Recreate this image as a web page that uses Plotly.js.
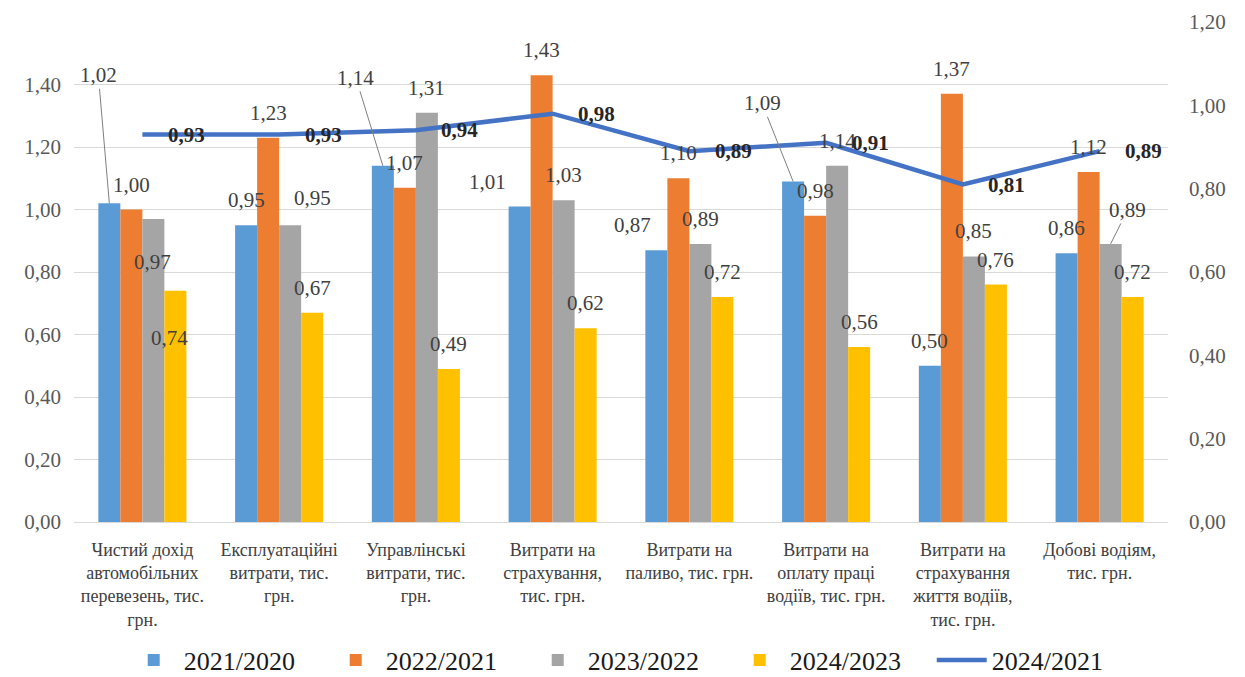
<!DOCTYPE html>
<html>
<head>
<meta charset="utf-8">
<script src="https://cdn.plot.ly/plotly-3.0.1.min.js"></script>
<style>html,body{margin:0;padding:0;background:#fff;}#chart{width:1245px;height:677px;}</style>
</head>
<body>
<div id="chart"></div>
<script>
// ---------- DATA ----------
const categories = [
  "Чистий дохід<br>автомобільних<br>перевезень, тис.<br>грн.",
  "Експлуатаційні<br>витрати, тис.<br>грн.",
  "Управлінські<br>витрати, тис.<br>грн.",
  "Витрати на<br>страхування,<br>тис. грн.",
  "Витрати на<br>паливо, тис. грн.",
  "Витрати на<br>оплату праці<br>водіїв, тис. грн.",
  "Витрати на<br>страхування<br>життя водіїв,<br>тис. грн.",
  "Добові водіям,<br>тис. грн."
];
const s2021_2020 = [1.02, 0.95, 1.14, 1.01, 0.87, 1.09, 0.50, 0.86];
const s2022_2021 = [1.00, 1.23, 1.07, 1.43, 1.10, 0.98, 1.37, 1.12];
const s2023_2022 = [0.97, 0.95, 1.31, 1.03, 0.89, 1.14, 0.85, 0.89];
const s2024_2023 = [0.74, 0.67, 0.49, 0.62, 0.72, 0.56, 0.76, 0.72];
const s2024_2021 = [0.93, 0.93, 0.94, 0.98, 0.89, 0.91, 0.81, 0.89];
const seriesNames = ["2021/2020", "2022/2021", "2023/2022", "2024/2023", "2024/2021"];
const leftTicks = [0, 0.2, 0.4, 0.6, 0.8, 1.0, 1.2, 1.4, 1.6];
const leftTickText = ["0,00","0,20","0,40","0,60","0,80","1,00","1,20","1,40",""];
const rightTicks = [0, 0.2, 0.4, 0.6, 0.8, 1.0, 1.2];

// ---------- STYLE ----------
const barColors = ["#5B9BD5", "#ED7D31", "#A5A5A5", "#FFC000"];
const lineColor = "#4472C4";
const serif = "'Liberation Serif', 'Times New Roman', serif";
const bargap = 0.356;
// manual label placement (pixel offsets from bar top, like moved Excel labels)
const labelMoves = {
  "0-0": [-11, -128, true], "0-2": [-1, 43], "0-3": [-6, 47],
  "1-2": [22, -27],
  "2-0": [-27, -88, true],
  "3-0": [-32, -24],
  "4-0": [-24, -25],
  "5-0": [-31, -78, true],
  "7-2": [17, -34, true]
};

const barSeries = [s2021_2020, s2022_2021, s2023_2022, s2024_2023];
const fmt = v => v.toFixed(2).replace(".", ",");

const traces = barSeries.map((vals, j) => ({
  type: "bar", name: seriesNames[j], x: categories, y: vals,
  marker: {color: barColors[j]}, yaxis: "y", hoverinfo: "y"
}));
traces.push({
  type: "scatter", mode: "lines", name: seriesNames[4], x: categories, y: s2024_2021,
  yaxis: "y2", line: {color: lineColor, width: 4.5}
});

const annotations = [];
const w = (1 - bargap) / 4;
barSeries.forEach((vals, j) => {
  vals.forEach((v, i) => {
    const mv = labelMoves[i + "-" + j] || [0, -25];
    const base = {
      x: i + (j - 1.5) * w, y: v, xref: "x", yref: "y",
      text: fmt(v), font: {family: serif, size: 21, color: "#404040"}
    };
    if (mv[2]) {
      Object.assign(base, {showarrow: true, ax: mv[0], ay: mv[1], arrowhead: 0,
        arrowwidth: 1, arrowcolor: "#7F7F7F", standoff: 0, startstandoff: 0});
    } else {
      Object.assign(base, {showarrow: false, xshift: mv[0], yshift: -mv[1]});
    }
    annotations.push(base);
  });
});
s2024_2021.forEach((v, i) => {
  annotations.push({
    x: i, y: v, xref: "x", yref: "y2", text: "<b>" + fmt(v) + "</b>",
    showarrow: false, xshift: 44, yshift: 0,
    font: {family: serif, size: 21, color: "#262626"}
  });
});

const layout = {
  width: 1245, height: 677,
  margin: {l: 74, r: 77, t: 22, b: 155, autoexpand: false},
  paper_bgcolor: "#ffffff", plot_bgcolor: "#ffffff",
  separators: ", ",
  font: {family: serif},
  barmode: "group", bargap: bargap, bargroupgap: 0,
  showlegend: true,
  legend: {orientation: "h", x: 0.505, xanchor: "center", xref: "container",
    y: 0.025, yanchor: "middle", yref: "container",
    font: {family: serif, size: 26, color: "#1a1a1a"}, itemwidth: 50,
    entrywidth: 137, entrywidthmode: "pixels",
    traceorder: "normal"},
  xaxis: {
    type: "category", showgrid: false, showline: true, linecolor: "#D9D9D9", linewidth: 1,
    ticks: "", ticklabelstandoff: 11,
    tickfont: {family: serif, size: 18, color: "#404040"}, automargin: false,
    fixedrange: true
  },
  yaxis: {
    range: [0, 1.6], tickvals: leftTicks, ticktext: leftTickText,
    showgrid: true, gridcolor: "#D9D9D9", gridwidth: 1, zeroline: false,
    showline: false, ticks: "", ticklabelstandoff: 12,
    tickfont: {family: serif, size: 21, color: "#595959"}, automargin: false
  },
  yaxis2: {
    range: [0, 1.2], overlaying: "y", side: "right", tickvals: rightTicks,
    tickformat: ".2f", showgrid: false, zeroline: false, showline: false, ticks: "",
    ticklabelstandoff: 20,
    tickfont: {family: serif, size: 21, color: "#595959"}, automargin: false
  },
  annotations: annotations
};

Plotly.newPlot("chart", traces, layout, {displayModeBar: false, staticPlot: true});
</script>
</body>
</html>
